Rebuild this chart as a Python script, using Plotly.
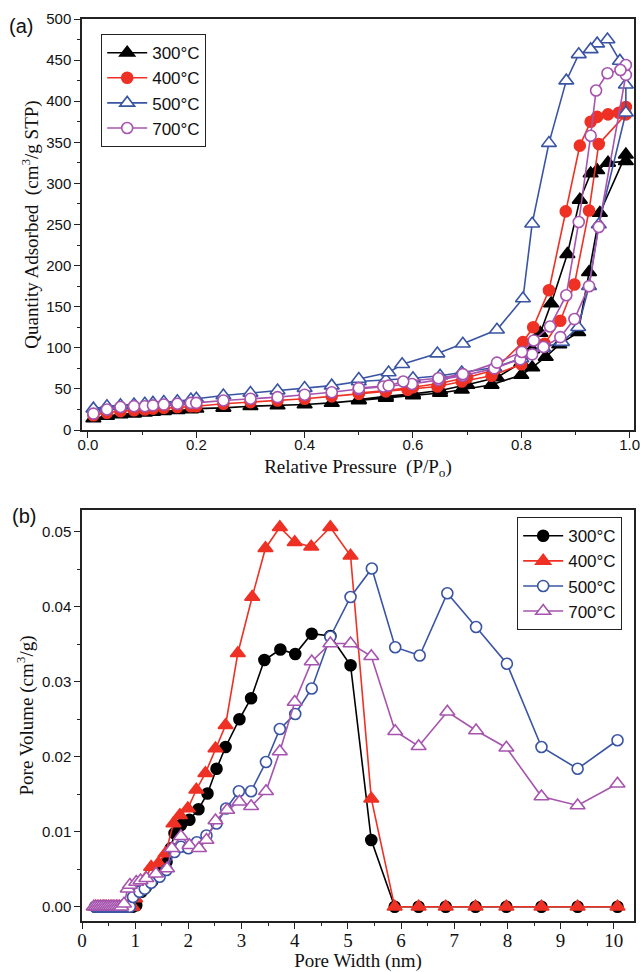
import plotly.graph_objects as go

# ---------------- (a) N2 adsorption-desorption isotherms ----------------
labels = ["300°C", "400°C", "500°C", "700°C"]

p300_ads = [0.01, 0.035, 0.06, 0.085, 0.105, 0.12, 0.14, 0.165, 0.19, 0.2, 0.25, 0.3, 0.35, 0.4, 0.45, 0.5,
            0.55, 0.6, 0.65, 0.69, 0.745, 0.8, 0.82, 0.845, 0.87, 0.905, 0.925, 0.945, 0.993]
q300_ads = [14, 17, 19, 20, 21, 22, 23, 24, 25, 26, 27, 29, 30, 31, 33, 36,
            39, 42, 45, 49, 55, 67, 76, 89, 104, 119, 192, 264, 335]
p300_des = [0.993, 0.96, 0.94, 0.928, 0.908, 0.885, 0.855, 0.835, 0.82, 0.8, 0.755, 0.7, 0.65, 0.6, 0.55, 0.5]
q300_des = [327, 325, 316, 312, 280, 214, 154, 118, 98, 82, 64, 55, 48, 44, 41, 37]

p400_ads = [0.01, 0.035, 0.06, 0.085, 0.105, 0.12, 0.14, 0.165, 0.19, 0.2, 0.25, 0.3, 0.35, 0.4, 0.45, 0.5,
            0.55, 0.59, 0.645, 0.69, 0.745, 0.8, 0.843, 0.872, 0.898, 0.925, 0.943, 0.993]
q400_ads = [18, 21, 23, 24, 25, 26, 27, 28, 29, 29, 32, 34, 36, 38, 41, 44,
            47, 49, 53, 59, 66, 80, 105, 133, 177, 267, 348, 384]
p400_des = [0.993, 0.98, 0.96, 0.94, 0.928, 0.908, 0.882, 0.851, 0.822, 0.803, 0.75, 0.7, 0.65, 0.6, 0.55, 0.5]
q400_des = [393, 386, 384, 381, 375, 346, 266, 170, 125, 107, 73, 64, 57, 52, 48, 45]

p500_ads = [0.01, 0.035, 0.06, 0.085, 0.105, 0.12, 0.14, 0.165, 0.19, 0.2, 0.25, 0.3, 0.35, 0.4, 0.45, 0.5,
            0.55, 0.6, 0.65, 0.69, 0.75, 0.8, 0.84, 0.875, 0.905, 0.925, 0.943, 0.993]
q500_ads = [26, 29, 30, 31, 32, 33, 34, 35, 37, 38, 42, 45, 48, 51, 54, 59,
            61, 63, 66, 70, 76, 87, 100, 107, 125, 175, 250, 386]
p500_des = [0.993, 0.982, 0.959, 0.94, 0.928, 0.906, 0.883, 0.851, 0.82, 0.803, 0.755, 0.692, 0.645, 0.58, 0.555, 0.5]
q500_des = [420, 449, 475, 470, 463, 457, 425, 349, 251, 160, 122, 105, 93, 80, 70, 62]

p700_ads = [0.01, 0.035, 0.06, 0.085, 0.105, 0.12, 0.14, 0.165, 0.19, 0.2, 0.25, 0.3, 0.35, 0.4, 0.45, 0.5,
            0.545, 0.598, 0.647, 0.692, 0.75, 0.798, 0.82, 0.841, 0.872, 0.898, 0.925, 0.943, 0.993]
q700_ads = [20, 25, 28, 29, 29, 30, 31, 32, 33, 33, 36, 38, 40, 43, 46, 50,
            53, 56, 61, 66, 75, 86, 92, 101, 113, 135, 175, 247, 432]
p700_des = [0.993, 0.983, 0.959, 0.938, 0.928, 0.906, 0.883, 0.853, 0.823, 0.801, 0.755, 0.692, 0.647, 0.582, 0.555, 0.5]
q700_des = [444, 438, 434, 413, 358, 253, 164, 126, 109, 95, 82, 68, 63, 59, 54, 51]

# ---------------- (b) pore size distributions ----------------
w300 = [0.25, 0.3, 0.35, 0.4, 0.45, 0.5, 0.55, 0.6, 0.65, 0.7, 0.75, 0.8, 0.85, 0.9, 0.95, 1.02, 1.12, 1.2,
        1.32, 1.45, 1.59, 1.67, 1.74, 1.86, 2.02, 2.19, 2.36, 2.53, 2.7, 2.96, 3.18, 3.43, 3.73, 4.01, 4.32,
        4.67, 5.05, 5.44, 5.88, 6.33, 6.84, 7.4, 7.98, 8.64, 9.32, 10.07]
v300 = [0, 0, 0, 0, 0, 0, 0, 0, 0, 0, 0, 0, 0, 0, 0, 0.0002, 0.002, 0.0026,
        0.0034, 0.0045, 0.006, 0.0078, 0.0098, 0.0109, 0.0116, 0.013, 0.0151, 0.0184, 0.0213, 0.025, 0.0278,
        0.0329, 0.0343, 0.0337, 0.0364, 0.0361, 0.0322, 0.0089, 0, 0, 0, 0, 0, 0, 0, 0]

w400 = [0.25, 0.3, 0.35, 0.4, 0.45, 0.5, 0.55, 0.6, 0.65, 0.7, 0.75, 0.8, 0.85, 0.9, 0.95, 1.0, 1.1, 1.2,
        1.3, 1.44, 1.57, 1.72, 1.84, 1.99, 2.15, 2.32, 2.51, 2.7, 2.93, 3.2, 3.45, 3.72, 4.0, 4.31, 4.67,
        5.05, 5.44, 5.88, 6.33, 6.84, 7.4, 7.98, 8.64, 9.32, 10.07]
v400 = [0, 0, 0, 0, 0, 0, 0, 0, 0, 0, 0, 0, 0, 0, 0, 0.0011, 0.0027, 0.0038,
        0.0053, 0.0058, 0.0071, 0.0111, 0.0122, 0.0131, 0.0156, 0.0178, 0.0211, 0.0242, 0.0338, 0.0413,
        0.0478, 0.0506, 0.0486, 0.048, 0.0506, 0.0468, 0.0144, 0, 0, 0, 0, 0, 0, 0, 0]

w500 = [0.25, 0.3, 0.35, 0.4, 0.45, 0.5, 0.55, 0.6, 0.65, 0.7, 0.75, 0.8, 0.85, 0.9, 0.96, 1.08, 1.18,
        1.3, 1.46, 1.59, 1.74, 1.86, 2.0, 2.16, 2.34, 2.53, 2.71, 2.95, 3.18, 3.46, 3.72, 4.01, 4.32, 4.67,
        5.05, 5.45, 5.89, 6.35, 6.87, 7.41, 7.99, 8.64, 9.32, 10.07]
v500 = [0, 0, 0, 0, 0, 0, 0, 0, 0, 0, 0, 0, 0, 0, 0.0013, 0.002, 0.0024,
        0.0032, 0.004, 0.0049, 0.0073, 0.008, 0.0078, 0.0086, 0.0095, 0.0111, 0.0131, 0.0154, 0.0154,
        0.0193, 0.0237, 0.0257, 0.0291, 0.036, 0.0413, 0.0451, 0.0346, 0.0335, 0.0418, 0.0373, 0.0324,
        0.0213, 0.0184, 0.0222]

w700 = [0.22, 0.26, 0.3, 0.34, 0.38, 0.42, 0.46, 0.5, 0.54, 0.58, 0.62, 0.66, 0.7, 0.74, 0.79, 0.86, 0.9,
        1.02, 1.1, 1.21, 1.39, 1.6, 1.69, 1.86, 2.02, 2.2, 2.34, 2.51, 2.73, 2.96, 3.18, 3.46, 3.72, 4.0,
        4.32, 4.67, 5.05, 5.44, 5.89, 6.33, 6.87, 7.41, 7.98, 8.64, 9.32, 10.07]
v700 = [0, 0, 0, 0, 0, 0, 0, 0, 0, 0, 0, 0, 0, 0, 0.0004, 0.0024, 0.0029,
        0.0033, 0.0035, 0.0038, 0.0044, 0.0051, 0.0078, 0.0094, 0.0082, 0.0078, 0.0089, 0.0115, 0.0129,
        0.014, 0.0134, 0.0154, 0.0207, 0.0273, 0.0327, 0.0351, 0.0351, 0.0334, 0.0234, 0.0214, 0.026,
        0.0235, 0.0212, 0.0147, 0.0135, 0.0164]

BLACK = "#000000"
RED = "#ee3124"
BLUE = "#3a54a4"
PURPLE = "#a654ae"

SANS = "Liberation Sans, Arial, sans-serif"
SERIF = "Liberation Serif, Times New Roman, serif"
FRAME = "#222222"

fig = go.Figure()

# isotherm loops: adsorption up to the highest P/P0, then desorption back down
iso = [
    (p300_ads + p300_des, q300_ads + q300_des, BLACK, "triangle-up", BLACK, 13),
    (p400_ads + p400_des, q400_ads + q400_des, RED, "circle", RED, 11),
    (p500_ads + p500_des, q500_ads + q500_des, BLUE, "triangle-up", "white", 13),
    (p700_ads + p700_des, q700_ads + q700_des, PURPLE, "circle", "white", 11),
]
for (px, qy, col, sym, fill, sz), name in zip(iso, labels):
    fig.add_trace(go.Scatter(
        x=px, y=qy, name=name, mode="lines+markers", xaxis="x", yaxis="y", legend="legend",
        line=dict(color=col, width=1.6),
        marker=dict(symbol=sym, size=sz, color=fill, line=dict(color=col, width=1.6)),
    ))

psd = [
    (w300, v300, BLACK, "circle", BLACK, 11),
    (w400, v400, RED, "triangle-up", RED, 13),
    (w500, v500, BLUE, "circle", "white", 11),
    (w700, v700, PURPLE, "triangle-up", "white", 13),
]
for (wx, vy, col, sym, fill, sz), name in zip(psd, labels):
    fig.add_trace(go.Scatter(
        x=wx, y=vy, name=name, mode="lines+markers", xaxis="x2", yaxis="y2", legend="legend2",
        line=dict(color=col, width=1.6),
        marker=dict(symbol=sym, size=sz, color=fill, line=dict(color=col, width=1.6)),
    ))

axis_common = dict(
    showline=True, mirror=True, linecolor=FRAME, linewidth=1.5,
    ticks="outside", ticklen=6, tickwidth=1.3, tickcolor=FRAME,
    showgrid=False, zeroline=False, automargin=False, ticklabeloverflow="allow",
)

fig.update_layout(
    width=640, height=972,
    margin=dict(l=82, r=6, t=19, b=51),
    paper_bgcolor="white", plot_bgcolor="white",
    xaxis=dict(
        **axis_common, domain=[0, 1], anchor="y", range=[-0.011, 1.008],
        dtick=0.2, tick0=0, tickformat=".1f", ticklabelstandoff=-6,
        minor=dict(ticks="outside", ticklen=3.5, dtick=0.1, tickcolor=FRAME, tickwidth=1.2),
        tickfont=dict(family=SANS, size=15, color="#111"),
        title=dict(text="Relative Pressure  (P/P<sub>o</sub>)", font=dict(family=SERIF, size=19, color="#111"),
                   standoff=8),
    ),
    yaxis=dict(
        **axis_common, domain=[0.5443, 1], anchor="x", range=[0, 500],
        dtick=50, tick0=0,
        minor=dict(ticks="outside", ticklen=3.5, dtick=25, tickcolor=FRAME, tickwidth=1.2),
        tickfont=dict(family=SANS, size=15, color="#111"),
        title=dict(text="Quantity Adsorbed  (cm<sup>3</sup>/g STP)", font=dict(family=SERIF, size=19, color="#111"),
                   standoff=3),
    ),
    xaxis2=dict(
        **axis_common, domain=[0, 1], anchor="y2", range=[0, 10.38],
        dtick=1, tick0=0, ticklabelstandoff=-5,
        minor=dict(ticks="outside", ticklen=3.5, dtick=0.5, tickcolor=FRAME, tickwidth=1.2),
        tickfont=dict(family=SERIF, size=19, color="#111"),
        title=dict(text="Pore Width (nm)", font=dict(family=SERIF, size=19, color="#111"), standoff=2),
    ),
    yaxis2=dict(
        **axis_common, domain=[0, 0.4557], anchor="x2", range=[-0.0019, 0.0529],
        dtick=0.01, tick0=0, tickformat=".2f",
        minor=dict(ticks="outside", ticklen=3.5, dtick=0.005, tickcolor=FRAME, tickwidth=1.2),
        tickfont=dict(family=SANS, size=15, color="#111"),
        title=dict(text="Pore Volume (cm<sup>3</sup>/g)", font=dict(family=SERIF, size=19, color="#111"),
                   standoff=3),
    ),
    legend=dict(
        x=0.0344, y=0.9834, xanchor="left", yanchor="top",
        bgcolor="white", bordercolor=FRAME, borderwidth=1.2,
        font=dict(family=SANS, size=17, color="#111"), itemwidth=40, tracegroupgap=0,
    ),
    legend2=dict(
        x=0.788, y=0.4479, xanchor="left", yanchor="top",
        bgcolor="white", bordercolor=FRAME, borderwidth=1.2,
        font=dict(family=SANS, size=17, color="#111"), itemwidth=40, tracegroupgap=0,
    ),
    annotations=[
        dict(text="(a)", x=-0.135, y=0.992, xref="paper", yref="paper", xanchor="left", yanchor="middle",
             showarrow=False, font=dict(family=SANS, size=20, color="#111")),
        dict(text="(b)", x=-0.13, y=0.4485, xref="paper", yref="paper", xanchor="left", yanchor="middle",
             showarrow=False, font=dict(family=SANS, size=20, color="#111")),
    ],
)

fig.write_html("out.html")
